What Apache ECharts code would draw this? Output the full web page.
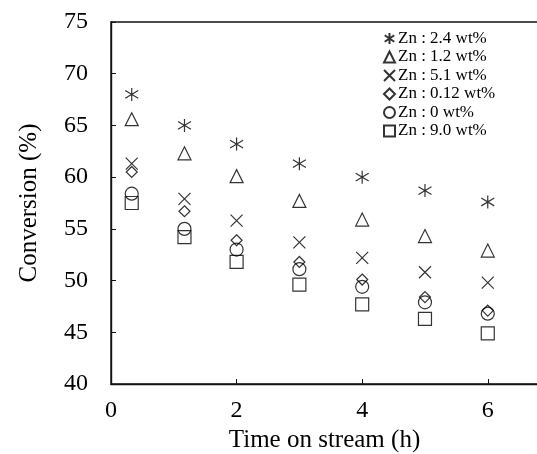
<!DOCTYPE html>
<html>
<head>
<meta charset="utf-8">
<script src="https://cdn.jsdelivr.net/npm/echarts@6/dist/echarts.min.js"></script>
<style>
  html, body { margin: 0; padding: 0; background: #fff; }
  #main { width: 537px; height: 454px; }
</style>
</head>
<body>
<div id="main"></div>
<script>
  // time on stream (h)
  var hours = [0.33, 1.17, 2, 3, 4, 5, 6];
  // conversion (%) per Zn loading
  var zn24 = [68.0, 65.0, 63.2, 61.3, 60.0, 58.7, 57.6];
  var zn12 = [65.6, 62.3, 60.1, 57.7, 55.9, 54.3, 52.9];
  var zn51 = [61.3, 57.9, 55.8, 53.7, 52.2, 50.8, 49.8];
  var zn012 = [60.5, 56.7, 53.9, 51.8, 50.1, 48.4, 47.1];
  var zn0 = [58.4, 55.0, 53.0, 51.1, 49.4, 47.9, 46.8];
  var zn90 = [57.5, 54.2, 51.8, 49.6, 47.7, 46.3, 44.9];
  var names = ['Zn : 2.4 wt%', 'Zn : 1.2 wt%', 'Zn : 5.1 wt%', 'Zn : 0.12 wt%', 'Zn : 0 wt%', 'Zn : 9.0 wt%'];
  var xTicks = [0, 2, 4, 6];

  var FONT = 'Liberation Serif';
  var asterisk = 'path://M0,-1L0,1M-0.87,-0.6L0.87,0.6M-0.87,0.6L0.87,-0.6';
  var cross = 'path://M0,0L1,1M0,1L1,0';

  function pts(arr) {
    return hours.map(function (h, i) { return [h, arr[i]]; });
  }
  function ser(name, arr, symbol, size) {
    return {
      name: name,
      type: 'scatter',
      symbol: symbol,
      symbolSize: size,
      data: pts(arr),
      itemStyle: { color: 'transparent', borderColor: '#000', borderWidth: 1.2 },
      emphasis: { disabled: true }
    };
  }

  var chart = echarts.init(document.getElementById('main'));
  chart.setOption({
    animation: false,
    grid: {
      left: 111, top: 22, right: -1, bottom: 70,
      outerBoundsMode: 'none', containLabel: false,
      show: true, borderColor: '#111', borderWidth: 1.4, backgroundColor: 'transparent'
    },
    legend: {
      orient: 'vertical',
      left: 378, top: 25,
      itemWidth: 11, itemHeight: 11, itemGap: 1.5,
      data: names,
      textStyle: { fontFamily: FONT, fontSize: 17, color: '#000', padding: [0, 0, 0, -2] }
    },
    xAxis: {
      type: 'value', min: 0, max: 6.8, interval: 2,
      name: 'Time on stream (h)', nameLocation: 'middle', nameGap: 37,
      nameTextStyle: { fontFamily: FONT, fontSize: 25, color: '#000' },
      axisLine: { lineStyle: { color: '#111', width: 1.4 } },
      axisTick: { inside: true, length: 5, customValues: xTicks, lineStyle: { color: '#111' } },
      axisLabel: { customValues: xTicks, margin: 15, fontFamily: FONT, fontSize: 24, color: '#000' },
      splitLine: { show: false }
    },
    yAxis: {
      type: 'value', min: 40, max: 75, interval: 5,
      name: 'Conversion (%)', nameLocation: 'middle', nameGap: 69,
      nameTextStyle: { fontFamily: FONT, fontSize: 25, color: '#000' },
      axisLine: { show: true, lineStyle: { color: '#111', width: 1.4 } },
      axisTick: { show: true, inside: true, length: 5, lineStyle: { color: '#111' } },
      axisLabel: { margin: 23, fontFamily: FONT, fontSize: 24, color: '#000' },
      splitLine: { show: false }
    },
    series: [
      ser(names[0], zn24, asterisk, 13),
      ser(names[1], zn12, 'triangle', 13),
      ser(names[2], zn51, cross, 12),
      ser(names[3], zn012, 'diamond', 11),
      ser(names[4], zn0, 'circle', 13),
      ser(names[5], zn90, 'rect', 13)
    ]
  });
</script>
</body>
</html>
